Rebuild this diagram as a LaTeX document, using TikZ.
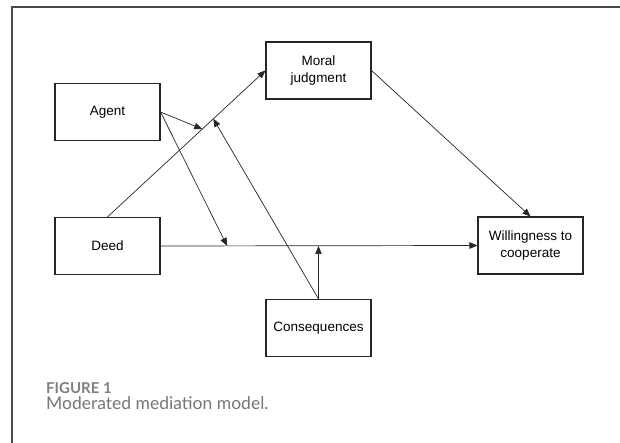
\documentclass[tikz,border=0pt]{standalone}
\usepackage{fontspec}
\setmainfont{Liberation Sans}
\newfontfamily\capfont{Lato}
\usetikzlibrary{arrows.meta,calc}
\definecolor{framegray}{HTML}{4A4A4A}
\definecolor{capgray}{HTML}{767676}
\definecolor{figgray}{HTML}{7F7F7F}
\tikzset{
  box/.style={draw=black!85, line width=1.1pt, minimum width=105pt, minimum height=57pt,
    inner sep=2pt, align=center, font=\fontsize{13.5}{17}\selectfont},
  conn/.style={draw=black!85, line width=0.7pt, -{Triangle[length=8pt,width=6.5pt]}},
}
\begin{document}
\begin{tikzpicture}[x=1pt,y=-1pt]
\useasboundingbox (0,0) rectangle (620,443);
\draw[framegray, line width=1.6pt] (12,443) -- (12,7) -- (620,7);
\node[box] (agent) at (107.5,112) {Agent};
\node[box] (deed) at (107.5,246) {Deed};
\node[box] (moral) at (318.5,70.5) {Moral\\judgment};
\node[box] (will) at (530.5,245.5) {Willingness to\\cooperate};
\node[box] (cons) at (318.5,328) {Consequences};
\coordinate (m1) at ($(deed.north)!0.6!(moral.west)$);
\coordinate (m2) at ($(deed.north)!0.67!(moral.west)$);
\coordinate (d1) at ($(deed.east)!0.21!(will.west)$);
\coordinate (d2) at (cons.north |- deed.east);
\draw[conn] (deed.north) -- (moral.west);
\draw[conn] (moral.east) -- (will.north);
\draw[conn] (deed.east) -- (will.west);
\draw[conn] (agent.east) -- (m1);
\draw[conn] (agent.east) -- (d1);
\draw[conn] (cons.north) -- (m2);
\draw[conn] (cons.north) -- (d2);
\node[anchor=base west, inner sep=0, text=figgray, font=\capfont\bfseries\fontsize{15}{17}\selectfont] (fig) at (46,393.5) {FIGURE 1};
\node[anchor=base west, inner sep=0, text=capgray, font=\capfont\fontsize{17.5}{20}\selectfont] (cap) at (46,409) {Moderated mediation model.};
\end{tikzpicture}
\end{document}
